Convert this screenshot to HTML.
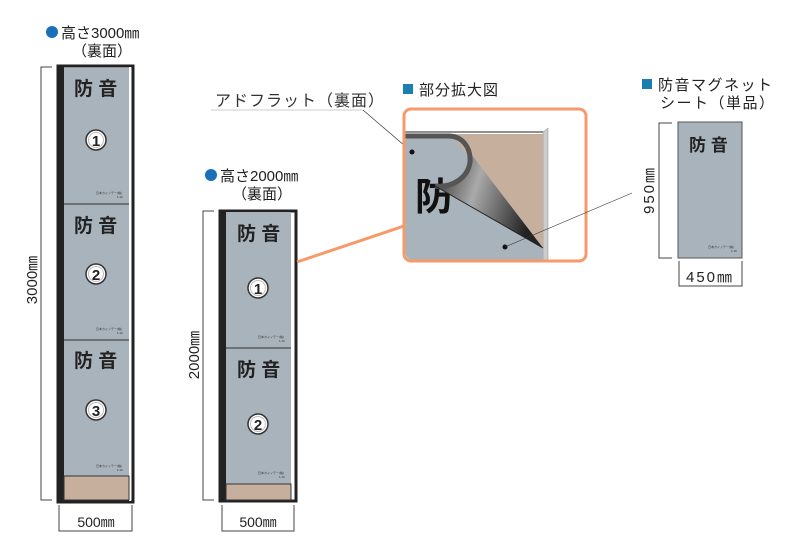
<!DOCTYPE html>
<html><head><meta charset="utf-8"><style>
html,body{margin:0;padding:0;background:#fff;}
svg{display:block;}
text{font-family:"Liberation Sans","Noto Sans CJK JP",sans-serif;}
</style></head><body>
<svg width="800" height="550" viewBox="0 0 800 550" xmlns="http://www.w3.org/2000/svg">
<defs>
<linearGradient id="flap" x1="0" y1="0" x2="1" y2="0.3">
<stop offset="0" stop-color="#222"/><stop offset="0.45" stop-color="#aaa"/><stop offset="1" stop-color="#222"/>
</linearGradient>
<g id="circ">
<circle r="10" fill="#fff" stroke="#333" stroke-width="1.5"/>
<circle r="7.5" fill="none" stroke="#bbb" stroke-width="1"/>
</g>
</defs>

<circle cx="52" cy="32" r="6" fill="#1a6fb8"/>
<text x="61" y="38" font-size="15" fill="#222">高さ3000㎜</text>
<text x="72" y="56" font-size="15" fill="#222">（裏面）</text>

<circle cx="211" cy="175" r="6" fill="#1a6fb8"/>
<text x="220" y="181" font-size="15" fill="#222">高さ2000㎜</text>
<text x="232" y="199" font-size="15" fill="#222">（裏面）</text>

<!-- Tall panel -->
<rect x="58" y="66" width="75" height="436" fill="#fff" stroke="#222" stroke-width="3"/>
<rect x="59" y="67" width="5" height="434" fill="#222"/>
<rect x="129" y="67" width="2" height="434" fill="#fff"/>
<rect x="64" y="68" width="65" height="408" fill="#a9b3bc"/>
<rect x="64" y="476" width="65" height="24" fill="#c6b09d" stroke="#333" stroke-width="1"/>
<line x1="64" y1="204" x2="129" y2="204" stroke="#333" stroke-width="1"/>
<line x1="64" y1="340" x2="129" y2="340" stroke="#333" stroke-width="1"/>
<g font-size="19" font-weight="bold" fill="#222">
<text x="74" y="95">防 音</text>
<text x="74" y="232">防 音</text>
<text x="74" y="367">防 音</text>
</g>
<use href="#circ" x="96" y="140"/><text x="96" y="146" font-size="15" font-weight="bold" text-anchor="middle" fill="#222">1</text>
<use href="#circ" x="96" y="274"/><text x="96" y="280" font-size="15" font-weight="bold" text-anchor="middle" fill="#222">2</text>
<use href="#circ" x="96" y="410"/><text x="96" y="416" font-size="15" font-weight="bold" text-anchor="middle" fill="#222">3</text>
<g font-size="3" fill="#333">
<text x="96" y="194">日本カイノテー(株)</text><text x="117" y="198">1:16</text>
<text x="96" y="330">日本カイノテー(株)</text><text x="117" y="334">1:16</text>
<text x="96" y="467">日本カイノテー(株)</text><text x="117" y="471">1:16</text>
</g>
<path d="M52 67 H41 V500 H52" fill="none" stroke="#444" stroke-width="1"/>
<text transform="translate(37,280) rotate(-90)" font-size="15" text-anchor="middle" fill="#222">3000㎜</text>
<path d="M59 505 V531 H132 V505" fill="none" stroke="#444" stroke-width="1"/>
<text x="96" y="527" font-size="14" text-anchor="middle" fill="#222">500㎜</text>

<!-- Mid panel -->
<rect x="220" y="211" width="76" height="290" fill="#fff" stroke="#222" stroke-width="3"/>
<rect x="221" y="212" width="5" height="288" fill="#222"/>
<rect x="226" y="212" width="65" height="272" fill="#a9b3bc"/>
<rect x="226" y="484" width="65" height="16" fill="#c6b09d" stroke="#333" stroke-width="1"/>
<line x1="226" y1="348" x2="291" y2="348" stroke="#333" stroke-width="1"/>
<g font-size="19" font-weight="bold" fill="#222">
<text x="237" y="240">防 音</text>
<text x="237" y="376">防 音</text>
</g>
<use href="#circ" x="258" y="288"/><text x="258" y="294" font-size="15" font-weight="bold" text-anchor="middle" fill="#222">1</text>
<use href="#circ" x="258" y="424"/><text x="258" y="430" font-size="15" font-weight="bold" text-anchor="middle" fill="#222">2</text>
<g font-size="3" fill="#333">
<text x="258" y="338">日本カイノテー(株)</text><text x="279" y="342">1:16</text>
<text x="258" y="474">日本カイノテー(株)</text><text x="279" y="478">1:16</text>
</g>
<path d="M214 211 H203 V500 H214" fill="none" stroke="#444" stroke-width="1"/>
<text transform="translate(199,355) rotate(-90)" font-size="15" text-anchor="middle" fill="#222">2000㎜</text>
<path d="M222 505 V531 H294 V505" fill="none" stroke="#444" stroke-width="1"/>
<text x="258" y="527" font-size="14" text-anchor="middle" fill="#222">500㎜</text>

<line x1="297" y1="262" x2="404" y2="226" stroke="#f79a6a" stroke-width="3"/>

<text x="215" y="106" font-size="16" fill="#333" letter-spacing="1">アドフラット（裏面）</text>
<line x1="211" y1="110" x2="363" y2="110" stroke="#ddd" stroke-width="1.5"/>
<line x1="363" y1="110" x2="412" y2="152" stroke="#333" stroke-width="0.7"/>

<rect x="403" y="84" width="10" height="10" fill="#1a7fb0"/>
<text x="419" y="95" font-size="15" fill="#222" letter-spacing="1">部分拡大図</text>

<rect x="404" y="109" width="182" height="152" rx="7" fill="#fff" stroke="#f79a6a" stroke-width="3"/>
<clipPath id="cb"><rect x="405.5" y="110.5" width="179" height="149" rx="6"/></clipPath>
<g clip-path="url(#cb)">
<line x1="405" y1="132" x2="545" y2="132" stroke="#222" stroke-width="1"/>
<polygon points="543,132 548,128 548,260 543,260" fill="#ccc" stroke="#888" stroke-width="0.5"/>
<rect x="405" y="134" width="138" height="130" fill="#a9b3bc"/>
<polygon points="450,134 543,134 543,248" fill="#c6b09d"/>
<text x="415" y="210" font-size="38" font-weight="bold" fill="#111">防</text>
<path d="M435,186 C455,184 472,172 468,150 L543,248 Z" fill="url(#flap)"/>
<path d="M405,136 H448 C463,136 471,148 470,162 C468,178 452,188 435,186" fill="none" stroke="#555" stroke-width="5"/>
<line x1="435" y1="186" x2="543" y2="248" stroke="#222" stroke-width="1"/>
</g>
<circle cx="412" cy="152" r="2.5" fill="#111"/>
<circle cx="505" cy="247" r="2.5" fill="#111"/>
<line x1="505" y1="247" x2="632" y2="193" stroke="#333" stroke-width="0.6"/>

<rect x="642" y="79" width="10" height="10" fill="#1a7fb0"/>
<text x="658" y="90" font-size="15" fill="#222" letter-spacing="1.5">防音マグネット</text>
<text x="660" y="108" font-size="15" fill="#222" letter-spacing="1.5">シート（単品）</text>
<rect x="678" y="122" width="64" height="136" fill="#a9b3bc" stroke="#555" stroke-width="1"/>
<text x="689" y="151" font-size="17" font-weight="bold" fill="#222">防 音</text>
<g font-size="3" fill="#333"><text x="708" y="248">日本カイノテー(株)</text><text x="731" y="252">1:16</text></g>
<path d="M672 123 H659 V258 H672" fill="none" stroke="#444" stroke-width="1"/>
<text transform="translate(654,190) rotate(-90)" font-size="15" text-anchor="middle" fill="#222" letter-spacing="2">950㎜</text>
<path d="M679 261 V286 H742 V261" fill="none" stroke="#444" stroke-width="1"/>
<text x="710" y="282" font-size="15" text-anchor="middle" fill="#222" letter-spacing="2">450㎜</text>
</svg>
</body></html>
